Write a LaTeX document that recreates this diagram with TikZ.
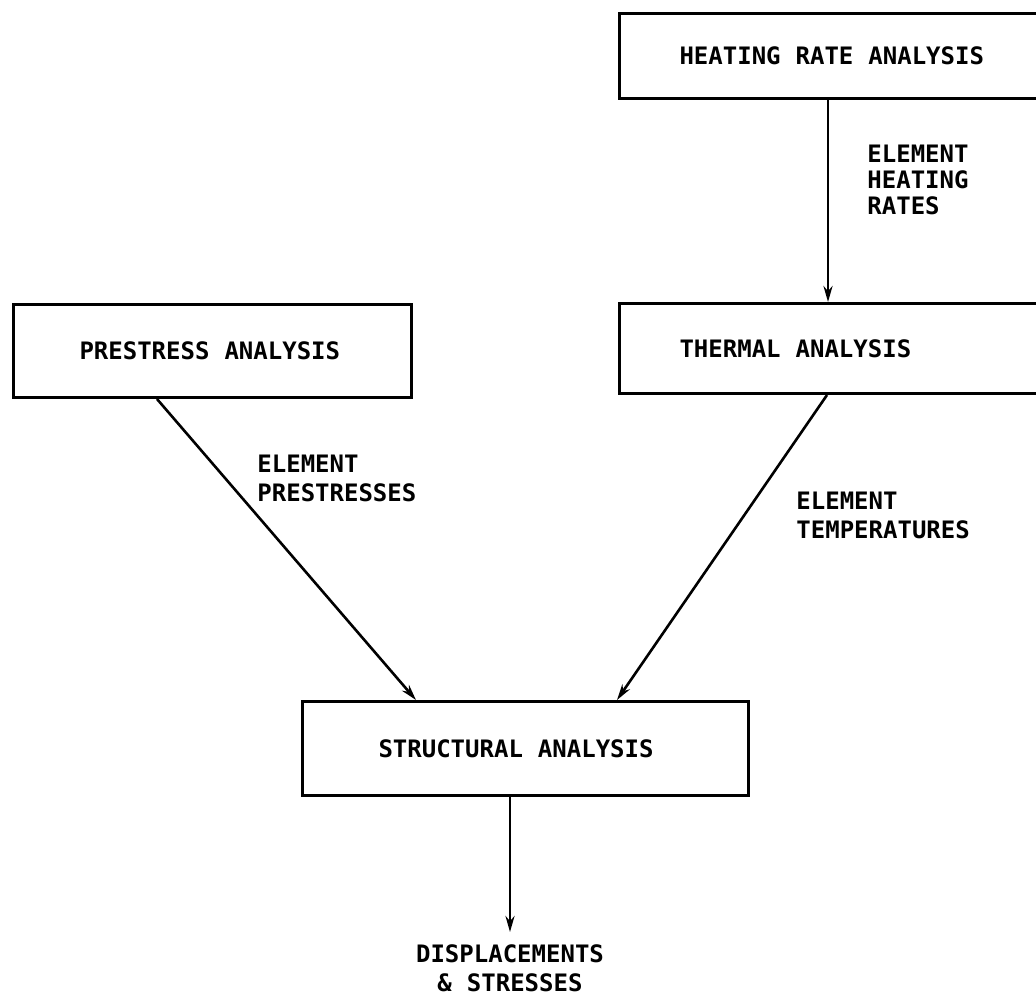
\documentclass[tikz,border=0pt]{standalone}
\usepackage{fontspec}
\setmonofont{DejaVu Sans Mono}
\usetikzlibrary{arrows.meta}
\newcommand{\lettering}{\ttfamily\bfseries\fontsize{12}{14.5}\selectfont}
\tikzset{
  stage/.style={draw, line width=1.5pt, anchor=north west, align=left,
    font=\lettering, inner ysep=0pt, execute at begin node={\spaceskip=7.5pt\relax}},
  note/.style={anchor=north west, align=left, inner sep=0pt, font=\lettering,
    execute at begin node={\spaceskip=7.5pt\relax}},
  flow/.style={line width=1.3pt, -{Stealth[length=8pt,width=4.5pt]}}
}
\begin{document}
\begin{tikzpicture}[x=1pt,y=1pt]
  \useasboundingbox (0,0) rectangle (518,-498.5);
  \clip (0,0) rectangle (518,-498.5);

  % Draw the boxes
  \node[stage, minimum height=42.5pt, text width=175pt, inner xsep=30pt] (heat) at (309,-6) {HEATING RATE ANALYSIS};
  \node[stage, minimum height=45pt, text width=175pt, inner xsep=30pt] (therm) at (309,-151) {THERMAL ANALYSIS};
  \node[stage, minimum height=46.5pt, text width=133pt, inner xsep=33pt] (pre) at (6,-151.5) {PRESTRESS ANALYSIS};
  \node[stage, minimum height=47pt, text width=147pt, inner xsep=38pt] (struct) at (150.5,-350) {STRUCTURAL ANALYSIS};

  % Labels beside the arrows
  \node[note, font={\lettering\fontsize{12}{13}\selectfont}] (rates) at (433.5,-72.5) {ELEMENT\\HEATING\\RATES};
  \node[note] (prestr) at (128.5,-227.5) {ELEMENT\\PRESTRESSES};
  \node[note] (temps) at (398,-246) {ELEMENT\\TEMPERATURES};
  \node[note, anchor=north, align=center, inner sep=6pt] (out) at (255,-466) {DISPLACEMENTS\\\& STRESSES};

  % Draw the arrows
  \draw[flow] ([xshift=105pt]heat.south west) -- ([xshift=105pt]therm.north west);
  \draw[flow] ([xshift=72.5pt]pre.south west) -- ([xshift=57.5pt]struct.north west);
  \draw[flow] ([xshift=104.5pt]therm.south west) -- ([xshift=158pt]struct.north west);
  \draw[flow] ([xshift=104.5pt]struct.south west) -- (out.north);
\end{tikzpicture}
\end{document}
